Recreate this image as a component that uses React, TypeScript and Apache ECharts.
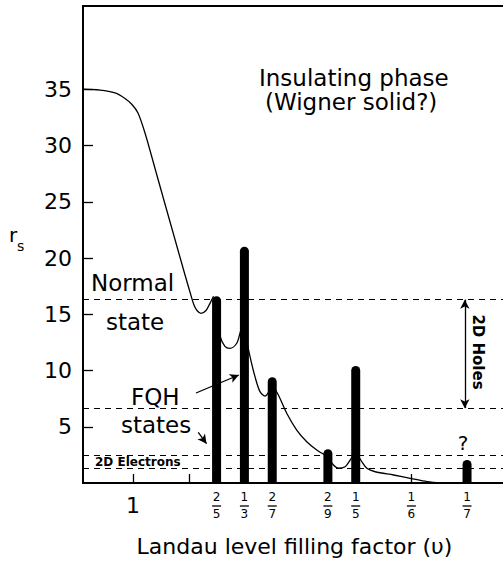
import React, { useEffect, useRef } from "react";
import * as echarts from "echarts";

// Filling factor labels (numerator / denominator); x position is 1/ν = den/num
const labelNum = [1, 2, 1, 2, 2, 1, 1, 1];
const labelDen = [1, 5, 3, 7, 9, 5, 6, 7];

// FQH state bars (ν = num/den) and their r_s heights
const barNum = [2, 1, 2, 2, 1, 1];
const barDen = [5, 3, 7, 9, 5, 7];
const barHeights = [16.6, 21.0, 9.4, 3.0, 10.4, 2.05];

// Axis ticks
const xTicks = [1, 2, 3, 5, 6, 7];
const yTicks = [5, 10, 15, 20, 25, 30, 35];

// Dashed reference levels of r_s
const dashedLevels = [16.3, 6.65, 2.43, 1.31];

// Phase boundary curve, segment by segment (x = 1/ν, y = r_s)
const curveSeg1 = [[0.1, 35.0], [0.405, 34.93], [0.675, 34.67], [0.855, 34.18], [0.98, 33.64], [1.088, 32.89], [1.214, 31.11], [1.394, 27.96], [1.573, 24.8], [1.753, 21.64], [1.933, 18.49], [2.022, 16.98], [2.094, 15.82], [2.148, 15.33], [2.22, 15.08], [2.31, 15.33], [2.382, 15.97], [2.445, 16.6]];
const curveSeg2 = [[2.5, 15.2], [2.56, 13.1], [2.65, 12.15], [2.74, 11.97], [2.86, 12.4], [2.92, 13.3], [3.0, 14.8]];
const curveSeg3 = [[3.0, 13.6], [3.1, 11.25], [3.19, 9.45], [3.28, 8.12], [3.37, 7.73], [3.46, 8.27], [3.5, 8.7]];
const curveSeg4 = [[3.5, 8.7], [3.61, 7.82], [3.76, 6.2], [3.94, 4.71], [4.12, 3.67], [4.3, 2.93], [4.45, 2.49], [4.5, 2.4]];
const curveSeg5 = [[4.5, 2.3], [4.6, 1.6], [4.69, 1.31], [4.81, 1.45], [4.9, 2.04], [5.0, 2.8]];
const curveSeg6 = [[5.0, 2.8], [5.11, 1.89], [5.2, 1.31], [5.35, 1.0], [5.68, 0.71], [5.98, 0.42], [6.28, 0.12], [6.55, 0.0]];
const curveSegments = [curveSeg1, curveSeg2, curveSeg3, curveSeg4, curveSeg5, curveSeg6];

// Annotation arrows [from, to] in data coordinates
const holesArrow = [[6.96, 16.3], [6.96, 6.65]];
const fqhArrow = [[2.13, 8.0], [2.9, 9.6]];
const statesArrow = [[2.17, 4.5], [2.32, 3.5]];

const FONT = "DejaVu Sans";

export default function App() {
  const ref = useRef<HTMLDivElement>(null);

  useEffect(() => {
    if (!ref.current) return;
    const chart = echarts.init(ref.current, null, { renderer: "svg" });

    const txt = (text: string, x: number, y: number, size: number, extra: any = {}) => ({
      type: "text",
      x,
      y,
      silent: true,
      z: 100,
      ...extra,
      style: {
        text,
        fontFamily: FONT,
        fontSize: size,
        fill: "#000",
        align: "left",
        verticalAlign: "middle",
        textAlign: "left",
        textVerticalAlign: "middle",
        ...(extra.style || {}),
      },
    });

    const curveSeries = curveSegments.map((seg, i) => ({
      type: "line",
      data: seg,
      smooth: 0.3,
      showSymbol: false,
      symbol: "none",
      silent: true,
      z: 2,
      lineStyle: { color: "#000", width: 1.3 },
      ...(i === 0
        ? {
            markLine: {
              silent: true,
              symbol: ["none", "none"],
              label: { show: false },
              emphasis: { disabled: true },
              lineStyle: { color: "#000", width: 1.2, type: [6, 5] },
              data: dashedLevels.map((v) => ({ yAxis: v })),
            },
          }
        : {}),
    }));

    const arrowLine = (a: number[][], both: boolean) => [
      { coord: a[0], symbol: both ? "arrow" : "none", symbolSize: [7, 9] },
      { coord: a[1], symbol: "arrow", symbolSize: [7, 9] },
    ];

    const option: any = {
      animation: false,
      grid: {
        left: 83,
        top: 6,
        right: -3,
        bottom: 80,
        show: true,
        borderColor: "#000",
        borderWidth: 1.8,
        outerBoundsMode: "none",
        containLabel: false,
      },
      xAxis: {
        type: "value",
        min: 0.1,
        max: 7.7,
        name: "Landau level filling factor (υ)",
        nameLocation: "middle",
        nameGap: 52,
        nameTextStyle: { fontFamily: FONT, fontSize: 22, color: "#000" },
        axisLine: { show: true, lineStyle: { color: "#000", width: 1.8 } },
        axisTick: { show: true, inside: true, length: 9, customValues: xTicks, lineStyle: { color: "#000", width: 1.3 } },
        axisLabel: { show: false },
        splitLine: { show: false },
      },
      yAxis: {
        type: "value",
        min: 0,
        max: 42.4,
        axisLine: { show: true, lineStyle: { color: "#000", width: 1.8 } },
        axisTick: { show: true, inside: true, length: 10, customValues: yTicks, lineStyle: { color: "#000", width: 1.3 } },
        axisLabel: { show: true, customValues: yTicks, margin: 11, fontFamily: FONT, fontSize: 22, color: "#000" },
        splitLine: { show: false },
      },
      series: [
        ...curveSeries,
        {
          type: "bar",
          data: barNum.map((n, i) => [barDen[i] / n, barHeights[i]]),
          barWidth: 9,
          silent: true,
          z: 3,
          itemStyle: { color: "#000", borderRadius: [4.5, 4.5, 0, 0] },
        },
        {
          type: "line",
          data: [],
          silent: true,
          z: 4,
          markLine: {
            silent: true,
            label: { show: false },
            emphasis: { disabled: true },
            lineStyle: { color: "#000", width: 1.3, type: "solid" },
            data: [arrowLine(holesArrow, true), arrowLine(fqhArrow, false), arrowLine(statesArrow, false)],
          },
        },
        {
          type: "custom",
          silent: true,
          clip: false,
          z: 10,
          data: labelNum.map((n, i) => [labelDen[i] / n, n, labelDen[i]]),
          renderItem: (params: any, api: any) => {
            const u = api.value(0);
            const n = api.value(1);
            const d = api.value(2);
            const p = api.coord([u, 0]);
            const base = { fontFamily: FONT, fill: "#000", align: "center", verticalAlign: "middle", textAlign: "center", textVerticalAlign: "middle" };
            if (n === d) {
              return { type: "text", x: p[0], y: p[1] + 22, style: { ...base, text: String(n), fontSize: 22 } };
            }
            return {
              type: "group",
              children: [
                { type: "text", x: p[0], y: p[1] + 14, style: { ...base, text: String(n), fontSize: 12 } },
                { type: "line", shape: { x1: p[0] - 4.5, y1: p[1] + 23, x2: p[0] + 4.5, y2: p[1] + 23 }, style: { stroke: "#000", lineWidth: 1.3 } },
                { type: "text", x: p[0], y: p[1] + 31, style: { ...base, text: String(d), fontSize: 12 } },
              ],
            };
          },
        },
      ],
      graphic: [
        txt("r", 9, 235, 20),
        txt("s", 17, 246, 14),
        txt("Insulating phase", 259, 78, 23),
        txt("(Wigner solid?)", 265, 102, 23),
        txt("Normal", 91, 283, 23),
        txt("state", 106, 322, 23),
        txt("FQH", 131, 397, 23),
        txt("states", 121, 425, 23),
        txt("2D Electrons", 95, 462, 12, { style: { fontWeight: "bold" } }),
        txt("?", 463, 443, 20, { style: { align: "center", textAlign: "center" } }),
        txt("2D Holes", 478, 352, 15, {
          rotation: -Math.PI / 2,
          style: { fontWeight: "bold", align: "center", textAlign: "center" },
        }),
      ],
    };

    chart.setOption(option);
    return () => chart.dispose();
  }, []);

  return (
    <div
      ref={ref}
      style={{ position: "absolute", left: 0, top: 0, width: 503, height: 563, background: "#fff" }}
    />
  );
}
